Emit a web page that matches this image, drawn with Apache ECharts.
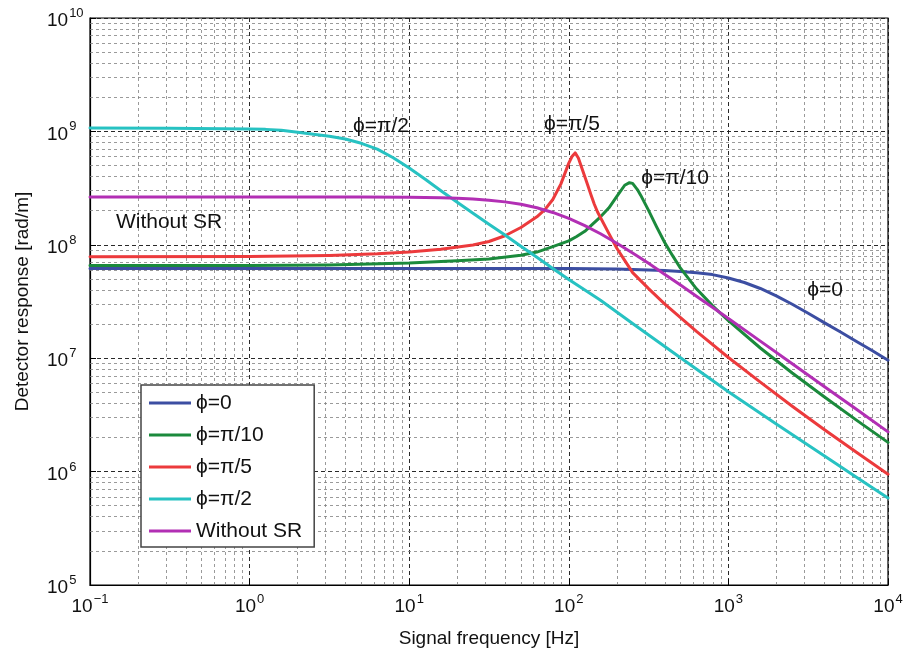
<!DOCTYPE html>
<html><head><meta charset="utf-8">
<script src="https://cdn.jsdelivr.net/npm/echarts@6/dist/echarts.min.js"></script>
<style>html,body{margin:0;padding:0;background:#fff}#c{width:907px;height:662px}</style>
</head><body><div id="c"></div>
<script>
// ---- data ----
const seriesNames = ['ϕ=0', 'ϕ=π/10', 'ϕ=π/5', 'ϕ=π/2', 'Without SR'];

const freqBlue = [0.1, 1, 10, 100, 200, 316, 398, 501, 631, 794, 1000, 1259, 1585, 1995, 2512, 3162, 3981, 5012, 6310, 7943, 10000];
const respBlue = [6.19e7, 6.19e7, 6.19e7, 6.17e7, 6.11e7, 5.98e7, 5.92e7, 5.82e7, 5.68e7, 5.46e7, 5.09e7, 4.65e7, 4.12e7, 3.55e7, 2.99e7, 2.49e7, 2.06e7, 1.71e7, 1.41e7, 1.17e7, 9.6e6];

const freqGreen = [0.1, 1, 3.16, 10, 20, 31.6, 50.1, 63.1, 79.4, 100, 112, 126, 141, 158, 178, 200, 224, 240, 251, 269, 282, 316, 355, 398, 447, 501, 631, 794, 1000, 1585, 2512, 3981, 6310, 10000];
const respGreen = [6.56e7, 6.58e7, 6.64e7, 6.9e7, 7.24e7, 7.5e7, 8.09e7, 8.63e7, 9.64e7, 1.084e8, 1.183e8, 1.315e8, 1.52e8, 1.766e8, 2.11e8, 2.67e8, 3.35e8, 3.53e8, 3.48e8, 3.07e8, 2.74e8, 2.01e8, 1.44e8, 1.054e8, 8.02e7, 6.22e7, 4.09e7, 2.91e7, 2.14e7, 1.23e7, 7.41e6, 4.57e6, 2.86e6, 1.81e6];

const freqRed = [0.1, 1, 3.16, 6.31, 10, 15.8, 25.1, 31.6, 39.8, 50.1, 63.1, 70.8, 79.4, 89.1, 100, 104.7, 109.6, 114.8, 120.2, 125.9, 131.8, 138.0, 144.5, 151.4, 158.5, 177.8, 199.5, 223.9, 251.2, 316.2, 398.1, 631, 1000, 1585, 2512, 3981, 6310, 10000];
const respRed = [7.85e7, 7.87e7, 8.05e7, 8.32e7, 8.63e7, 9.14e7, 9.95e7, 1.069e8, 1.202e8, 1.422e8, 1.766e8, 2.04e8, 2.51e8, 3.43e8, 5.25e8, 6.0e8, 6.46e8, 5.83e8, 4.84e8, 4.01e8, 3.31e8, 2.73e8, 2.28e8, 1.945e8, 1.726e8, 1.268e8, 9.38e7, 7.29e7, 5.69e7, 4.11e7, 3.01e7, 1.722e7, 1.014e7, 6.15e6, 3.77e6, 2.35e6, 1.49e6, 9.48e5];

const freqCyan = [0.1, 0.316, 1, 1.26, 1.58, 2.0, 2.51, 3.16, 3.98, 5.01, 6.31, 7.94, 10, 12.6, 15.8, 20, 25.1, 31.6, 39.8, 50.1, 63.1, 79.4, 100, 158, 251, 501, 1000, 1995, 3981, 6310, 10000];
const respCyan = [1.069e9, 1.067e9, 1.052e9, 1.042e9, 1.023e9, 9.82e8, 9.44e8, 9.08e8, 8.57e8, 7.85e8, 6.97e8, 5.86e8, 4.75e8, 3.79e8, 3.0e8, 2.37e8, 1.9e8, 1.52e8, 1.22e8, 9.7e7, 7.76e7, 6.19e7, 4.95e7, 3.24e7, 2.02e7, 1.01e7, 5.06e6, 2.63e6, 1.38e6, 8.95e5, 5.85e5];

const freqPurple = [0.1, 1, 5.01, 10, 15.8, 20, 25.1, 31.6, 39.8, 50.1, 63.1, 79.4, 100, 126, 158, 200, 251, 316, 398, 501, 631, 794, 1000, 1585, 2512, 3981, 6310, 10000];
const respPurple = [2.64e8, 2.64e8, 2.635e8, 2.62e8, 2.595e8, 2.57e8, 2.532e8, 2.475e8, 2.391e8, 2.275e8, 2.12e8, 1.929e8, 1.71e8, 1.476e8, 1.251e8, 1.033e8, 8.47e7, 6.86e7, 5.51e7, 4.42e7, 3.52e7, 2.81e7, 2.24e7, 1.414e7, 8.93e6, 5.63e6, 3.56e6, 2.24e6];

const annotations = [
  { text: 'ϕ=π/2', x: 381, y: 126 },
  { text: 'ϕ=π/5', x: 572, y: 124 },
  { text: 'ϕ=π/10', x: 675, y: 178 },
  { text: 'ϕ=0', x: 825, y: 290 },
  { text: 'Without SR', x: 169, y: 222 }
];
const xMin = 0.1, xMax = 1e4, yMin = 1e5, yMax = 1e10;
// ------------------------------------------------

const FONT = '"Liberation Sans", Arial, Helvetica, sans-serif';
const colors = ['#3c4ea2', '#1b8a3c', '#ec3a3c', '#27c2c2', '#b22fb4'];
const zip = (xs, ys) => xs.map((x, i) => [x, ys[i]]);
const allData = [zip(freqBlue, respBlue), zip(freqGreen, respGreen), zip(freqRed, respRed), zip(freqCyan, respCyan), zip(freqPurple, respPurple)];

// minor grid positions (2..9 per decade)
const minorX = [], minorY = [];
for (let e = -1; e < 4; e++) for (let k = 2; k <= 9; k++) minorX.push(k * Math.pow(10, e));
for (let e = 5; e < 10; e++) for (let k = 2; k <= 9; k++) minorY.push(k * Math.pow(10, e));

const sup = v => {
  const e = Math.round(Math.log10(v));
  return '{b|10}{s|' + (e < 0 ? '\u2212' + (-e) : e) + '}';
};
const richLab = {
  b: { fontSize: 19, fontFamily: FONT, color: '#111', lineHeight: 22, padding: [6, 0, 0, 0] },
  s: { fontSize: 13, fontFamily: FONT, color: '#111', verticalAlign: 'top', lineHeight: 14, padding: [0, 0, 0, 1] }
};

const chart = echarts.init(document.getElementById('c'), null, { renderer: 'canvas' });
const series = allData.map((d, i) => ({
  name: seriesNames[i],
  type: 'line',
  data: d,
  symbol: 'none',
  showSymbol: false,
  smooth: false,
  lineStyle: { color: colors[i], width: 3, join: 'round', cap: 'round' },
  itemStyle: { color: colors[i] },
  z: 3,
  silent: true
}));
series[0].markLine = {
  silent: true, symbol: 'none', z: 1, animation: false,
  label: { show: false },
  lineStyle: { type: [3, 3], color: '#808080', width: 0.8 },
  data: minorX.map(v => ({ xAxis: v })).concat(minorY.map(v => ({ yAxis: v })))
};

chart.setOption({
  animation: false,
  backgroundColor: '#fff',
  grid: { left: 90, right: 19, top: 18, bottom: 77, show: true, borderColor: '#000', borderWidth: 1.2, backgroundColor: 'transparent' },
  xAxis: {
    type: 'log', logBase: 10, min: xMin, max: xMax,
    name: 'Signal frequency [Hz]', nameLocation: 'middle', nameGap: 44,
    nameTextStyle: { fontSize: 19, fontFamily: FONT, color: '#111' },
    axisLine: { show: true, lineStyle: { color: '#000', width: 1.2 } },
    axisTick: { show: true, inside: true, length: 6, lineStyle: { color: '#000' } },
    axisLabel: { formatter: sup, rich: richLab, margin: 8 },
    splitLine: { show: true, lineStyle: { type: [4, 3], color: '#111', width: 0.9 } },
    minorTick: { show: false }, minorSplitLine: { show: false }
  },
  yAxis: {
    type: 'log', logBase: 10, min: yMin, max: yMax,
    name: 'Detector response [rad/m]', nameLocation: 'middle', nameGap: 58, nameRotate: 90,
    nameTextStyle: { fontSize: 19, fontFamily: FONT, color: '#111' },
    axisLine: { show: true, lineStyle: { color: '#000', width: 1.2 } },
    axisTick: { show: true, inside: true, length: 6, lineStyle: { color: '#000' } },
    axisLabel: { formatter: sup, rich: richLab, margin: 43, align: 'left' },
    splitLine: { show: true, lineStyle: { type: [4, 3], color: '#111', width: 0.9 } },
    minorTick: { show: false }, minorSplitLine: { show: false }
  },
  legend: {
    data: seriesNames,
    orient: 'vertical', left: 141, top: 385,
    padding: [7, 12, 5, 8],
    icon: 'rect',
    itemWidth: 42, itemHeight: 3, itemGap: 10,
    backgroundColor: '#fff', borderColor: '#444', borderWidth: 1.5,
    textStyle: { fontSize: 21, fontFamily: FONT, color: '#111', lineHeight: 22 },
    selectedMode: false
  },
  graphic: annotations.map(a => ({
    type: 'text', x: a.x, y: a.y, z: 10,
    style: { text: a.text, font: '21px ' + FONT, fill: '#111', align: 'center', verticalAlign: 'middle' }
  })),
  series: series
});
</script>
</body></html>
